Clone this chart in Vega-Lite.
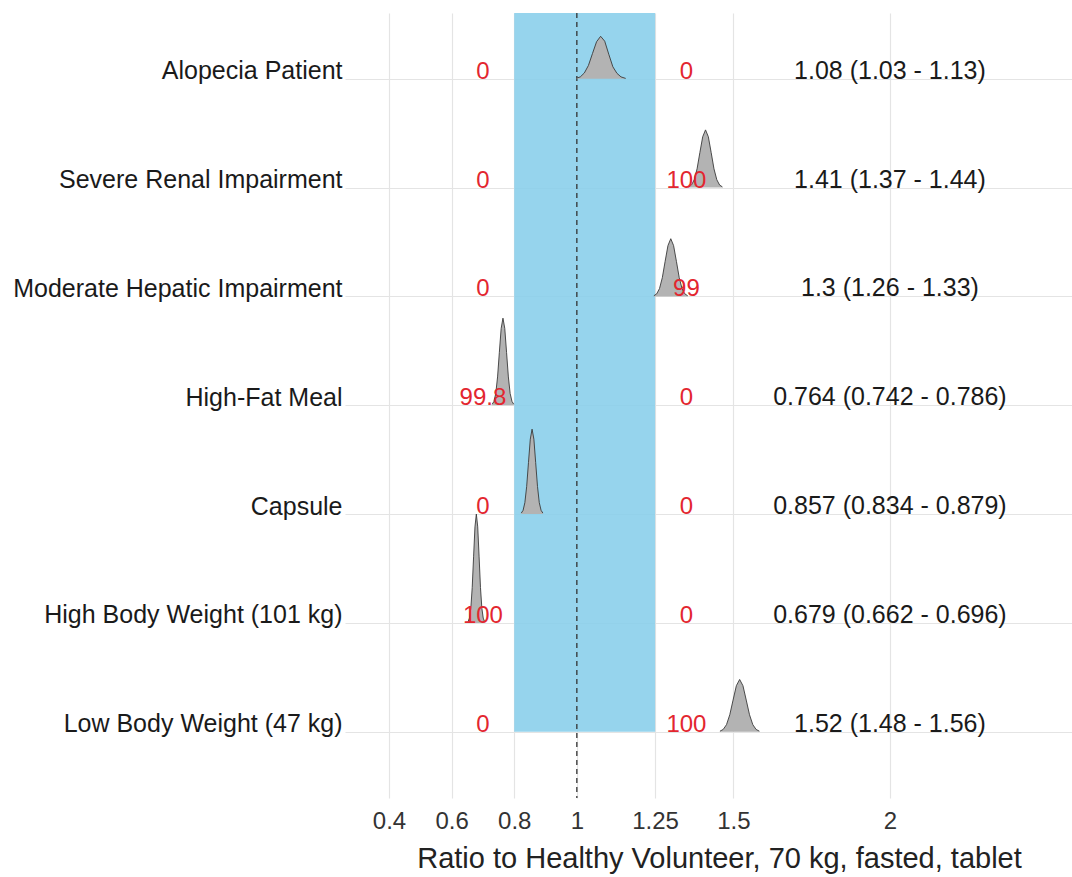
{
  "$schema": "https://vega.github.io/schema/vega-lite/v6.json",
  "width": 727,
  "height": 785,
  "autosize": {"type": "none"},
  "padding": {"left": 345, "top": 13, "right": 0, "bottom": 79},
  "background": "white",
  "config": {
    "view": {"stroke": null},
    "font": "Liberation Sans",
    "axis": {"gridColor": "#e4e4e4", "gridWidth": 1.2, "domain": false, "ticks": false}
  },
  "datasets": {
    "rows": [
      {"row": 7, "name": "Alopecia Patient", "lo": "0", "hi": "0", "summary": "1.08 (1.03 - 1.13)"},
      {"row": 6, "name": "Severe Renal Impairment", "lo": "0", "hi": "100", "summary": "1.41 (1.37 - 1.44)"},
      {"row": 5, "name": "Moderate Hepatic Impairment", "lo": "0", "hi": "99", "summary": "1.3 (1.26 - 1.33)"},
      {"row": 4, "name": "High-Fat Meal", "lo": "99.8", "hi": "0", "summary": "0.764 (0.742 - 0.786)"},
      {"row": 3, "name": "Capsule", "lo": "0", "hi": "0", "summary": "0.857 (0.834 - 0.879)"},
      {"row": 2, "name": "High Body Weight (101 kg)", "lo": "100", "hi": "0", "summary": "0.679 (0.662 - 0.696)"},
      {"row": 1, "name": "Low Body Weight (47 kg)", "lo": "0", "hi": "100", "summary": "1.52 (1.48 - 1.56)"}
    ],
    "band": [{"x": 0.8, "x2": 1.25, "y": 1, "y2": 7.604}],
    "ridges": [
      {"row": 7, "x": 0.998, "top": 7.004, "base": 7},
      {"row": 7, "x": 1.011, "top": 7.017, "base": 7},
      {"row": 7, "x": 1.024, "top": 7.053, "base": 7},
      {"row": 7, "x": 1.037, "top": 7.122, "base": 7},
      {"row": 7, "x": 1.050, "top": 7.232, "base": 7},
      {"row": 7, "x": 1.063, "top": 7.340, "base": 7},
      {"row": 7, "x": 1.076, "top": 7.390, "base": 7},
      {"row": 7, "x": 1.089, "top": 7.345, "base": 7},
      {"row": 7, "x": 1.102, "top": 7.225, "base": 7},
      {"row": 7, "x": 1.115, "top": 7.110, "base": 7},
      {"row": 7, "x": 1.128, "top": 7.050, "base": 7},
      {"row": 7, "x": 1.141, "top": 7.017, "base": 7},
      {"row": 7, "x": 1.156, "top": 7.003, "base": 7},

      {"row": 6, "x": 1.357, "top": 6.006, "base": 6},
      {"row": 6, "x": 1.366, "top": 6.023, "base": 6},
      {"row": 6, "x": 1.375, "top": 6.072, "base": 6},
      {"row": 6, "x": 1.384, "top": 6.172, "base": 6},
      {"row": 6, "x": 1.393, "top": 6.322, "base": 6},
      {"row": 6, "x": 1.402, "top": 6.467, "base": 6},
      {"row": 6, "x": 1.411, "top": 6.530, "base": 6},
      {"row": 6, "x": 1.420, "top": 6.467, "base": 6},
      {"row": 6, "x": 1.429, "top": 6.322, "base": 6},
      {"row": 6, "x": 1.438, "top": 6.172, "base": 6},
      {"row": 6, "x": 1.447, "top": 6.072, "base": 6},
      {"row": 6, "x": 1.456, "top": 6.023, "base": 6},
      {"row": 6, "x": 1.465, "top": 6.006, "base": 6},

      {"row": 5, "x": 1.246, "top": 5.006, "base": 5},
      {"row": 5, "x": 1.255, "top": 5.023, "base": 5},
      {"row": 5, "x": 1.264, "top": 5.072, "base": 5},
      {"row": 5, "x": 1.273, "top": 5.172, "base": 5},
      {"row": 5, "x": 1.282, "top": 5.322, "base": 5},
      {"row": 5, "x": 1.291, "top": 5.467, "base": 5},
      {"row": 5, "x": 1.300, "top": 5.530, "base": 5},
      {"row": 5, "x": 1.309, "top": 5.467, "base": 5},
      {"row": 5, "x": 1.318, "top": 5.322, "base": 5},
      {"row": 5, "x": 1.327, "top": 5.172, "base": 5},
      {"row": 5, "x": 1.336, "top": 5.072, "base": 5},
      {"row": 5, "x": 1.345, "top": 5.023, "base": 5},
      {"row": 5, "x": 1.354, "top": 5.006, "base": 5},

      {"row": 4, "x": 0.7295, "top": 4.009, "base": 4},
      {"row": 4, "x": 0.7353, "top": 4.035, "base": 4},
      {"row": 4, "x": 0.7410, "top": 4.108, "base": 4},
      {"row": 4, "x": 0.7468, "top": 4.260, "base": 4},
      {"row": 4, "x": 0.7525, "top": 4.486, "base": 4},
      {"row": 4, "x": 0.7583, "top": 4.706, "base": 4},
      {"row": 4, "x": 0.7640, "top": 4.800, "base": 4},
      {"row": 4, "x": 0.7698, "top": 4.706, "base": 4},
      {"row": 4, "x": 0.7755, "top": 4.486, "base": 4},
      {"row": 4, "x": 0.7813, "top": 4.260, "base": 4},
      {"row": 4, "x": 0.7870, "top": 4.108, "base": 4},
      {"row": 4, "x": 0.7928, "top": 4.035, "base": 4},
      {"row": 4, "x": 0.7985, "top": 4.009, "base": 4},

      {"row": 3, "x": 0.8225, "top": 3.009, "base": 3},
      {"row": 3, "x": 0.8283, "top": 3.034, "base": 3},
      {"row": 3, "x": 0.8340, "top": 3.105, "base": 3},
      {"row": 3, "x": 0.8398, "top": 3.254, "base": 3},
      {"row": 3, "x": 0.8455, "top": 3.473, "base": 3},
      {"row": 3, "x": 0.8513, "top": 3.688, "base": 3},
      {"row": 3, "x": 0.8570, "top": 3.780, "base": 3},
      {"row": 3, "x": 0.8628, "top": 3.688, "base": 3},
      {"row": 3, "x": 0.8685, "top": 3.473, "base": 3},
      {"row": 3, "x": 0.8743, "top": 3.254, "base": 3},
      {"row": 3, "x": 0.8800, "top": 3.105, "base": 3},
      {"row": 3, "x": 0.8858, "top": 3.034, "base": 3},
      {"row": 3, "x": 0.8915, "top": 3.009, "base": 3},

      {"row": 2, "x": 0.6526, "top": 2.011, "base": 2},
      {"row": 2, "x": 0.6570, "top": 2.044, "base": 2},
      {"row": 2, "x": 0.6614, "top": 2.135, "base": 2},
      {"row": 2, "x": 0.6658, "top": 2.325, "base": 2},
      {"row": 2, "x": 0.6702, "top": 2.607, "base": 2},
      {"row": 2, "x": 0.6746, "top": 2.882, "base": 2},
      {"row": 2, "x": 0.6790, "top": 3.000, "base": 2},
      {"row": 2, "x": 0.6834, "top": 2.882, "base": 2},
      {"row": 2, "x": 0.6878, "top": 2.607, "base": 2},
      {"row": 2, "x": 0.6922, "top": 2.325, "base": 2},
      {"row": 2, "x": 0.6966, "top": 2.135, "base": 2},
      {"row": 2, "x": 0.7010, "top": 2.044, "base": 2},
      {"row": 2, "x": 0.7054, "top": 2.011, "base": 2},

      {"row": 1, "x": 1.4570, "top": 1.005, "base": 1},
      {"row": 1, "x": 1.4675, "top": 1.021, "base": 1},
      {"row": 1, "x": 1.4780, "top": 1.065, "base": 1},
      {"row": 1, "x": 1.4885, "top": 1.156, "base": 1},
      {"row": 1, "x": 1.4990, "top": 1.291, "base": 1},
      {"row": 1, "x": 1.5095, "top": 1.423, "base": 1},
      {"row": 1, "x": 1.5200, "top": 1.480, "base": 1},
      {"row": 1, "x": 1.5305, "top": 1.423, "base": 1},
      {"row": 1, "x": 1.5410, "top": 1.291, "base": 1},
      {"row": 1, "x": 1.5515, "top": 1.156, "base": 1},
      {"row": 1, "x": 1.5620, "top": 1.065, "base": 1},
      {"row": 1, "x": 1.5725, "top": 1.021, "base": 1},
      {"row": 1, "x": 1.5830, "top": 1.005, "base": 1}
    ]
  },
  "encoding": {
    "x": {
      "type": "quantitative",
      "scale": {"domain": [0.2595, 2.5815], "nice": false, "zero": false},
      "axis": {
        "values": [0.4, 0.6, 0.8, 1, 1.25, 1.5, 2],
        "labelExpr": "'' + datum.value",
        "labelFontSize": 24,
        "labelColor": "#333333",
        "labelPadding": 11,
        "labelFlush": false,
        "title": "Ratio to Healthy Volunteer, 70 kg, fasted, tablet",
        "titleFontSize": 29,
        "titleFontWeight": "normal",
        "titleColor": "#222222",
        "titleX": 374,
        "titleY": 69,
        "titleBaseline": "alphabetic",
        "titleAnchor": "middle",
        "titleAlign": "center"
      }
    },
    "y": {
      "type": "quantitative",
      "scale": {"domain": [0.391, 7.604], "nice": false, "zero": false},
      "axis": {
        "values": [1, 2, 3, 4, 5, 6, 7],
        "labelExpr": "['', 'Low Body Weight (47 kg)', 'High Body Weight (101 kg)', 'Capsule', 'High-Fat Meal', 'Moderate Hepatic Impairment', 'Severe Renal Impairment', 'Alopecia Patient'][datum.value]",
        "labelFontSize": 25,
        "labelColor": "#1a1a1a",
        "labelBaseline": "alphabetic",
        "labelAlign": "right",
        "labelPadding": 3,
        "labelLimit": 400,
        "labelFlush": false,
        "labelBound": false,
        "title": null
      }
    }
  },
  "layer": [
    {
      "data": {"name": "band"},
      "mark": {"type": "rect", "color": "#87CEEB", "opacity": 0.88},
      "encoding": {
        "x": {"field": "x", "type": "quantitative"},
        "x2": {"field": "x2"},
        "y": {"field": "y", "type": "quantitative"},
        "y2": {"field": "y2"}
      }
    },
    {
      "data": {"name": "band"},
      "mark": {"type": "rule", "color": "#333333", "strokeWidth": 1.3, "strokeDash": [5, 4]},
      "encoding": {"x": {"datum": 1, "type": "quantitative"}}
    },
    {
      "data": {"name": "ridges"},
      "mark": {"type": "area", "color": "#b3b3b3", "opacity": 1},
      "encoding": {
        "x": {"field": "x", "type": "quantitative"},
        "y": {"field": "top", "type": "quantitative"},
        "y2": {"field": "base"},
        "detail": {"field": "row", "type": "nominal"}
      }
    },
    {
      "data": {"name": "ridges"},
      "mark": {"type": "line", "color": "#3a3a3a", "strokeWidth": 0.9},
      "encoding": {
        "x": {"field": "x", "type": "quantitative"},
        "y": {"field": "top", "type": "quantitative"},
        "detail": {"field": "row", "type": "nominal"}
      }
    },
    {
      "data": {"name": "rows"},
      "mark": {"type": "text", "color": "#e3262f", "fontSize": 24, "baseline": "alphabetic", "align": "center"},
      "encoding": {
        "x": {"datum": 0.7, "type": "quantitative"},
        "y": {"field": "row", "type": "quantitative"},
        "text": {"field": "lo"}
      }
    },
    {
      "data": {"name": "rows"},
      "mark": {"type": "text", "color": "#e3262f", "fontSize": 24, "baseline": "alphabetic", "align": "center"},
      "encoding": {
        "x": {"datum": 1.35, "type": "quantitative"},
        "y": {"field": "row", "type": "quantitative"},
        "text": {"field": "hi"}
      }
    },
    {
      "data": {"name": "rows"},
      "mark": {"type": "text", "color": "#1a1a1a", "fontSize": 25, "baseline": "alphabetic", "align": "center"},
      "encoding": {
        "x": {"datum": 2, "type": "quantitative"},
        "y": {"field": "row", "type": "quantitative"},
        "text": {"field": "summary"}
      }
    }
  ]
}
